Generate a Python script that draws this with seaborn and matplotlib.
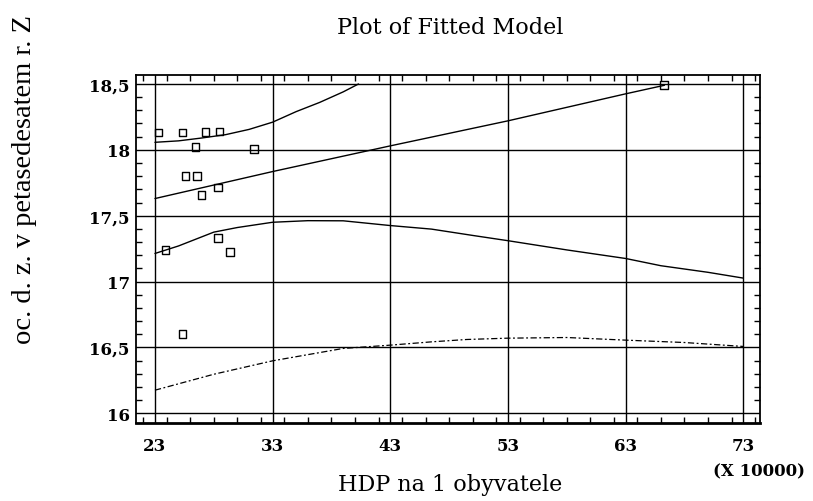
import numpy as np
import pandas as pd
import seaborn as sns
import matplotlib
matplotlib.use("Agg")
import matplotlib.pyplot as plt
from matplotlib.ticker import MultipleLocator, FixedLocator, FuncFormatter

# ---- data ----
obs_x = [23.3, 25.35, 27.3, 28.5, 26.45, 31.4, 25.6, 26.55, 28.35, 26.95, 23.9, 28.35, 29.4, 25.35, 66.25]
obs_y = [18.13, 18.13, 18.135, 18.14, 18.02, 18.005, 17.80, 17.80, 17.715, 17.655, 17.24, 17.33, 17.225, 16.60, 18.49]

fit_x = [23, 33, 43, 53, 63, 66.3]
fit_y = [17.63, 17.835, 18.03, 18.22, 18.425, 18.49]

upper_x = [23, 25, 27, 29, 31, 33, 35, 37, 39, 40.3]
upper_y = [18.057, 18.068, 18.09, 18.115, 18.155, 18.21, 18.29, 18.36, 18.44, 18.5]

lower_x = [23, 25, 28, 30, 33, 36, 39, 43, 46.5, 50, 53, 58, 63, 66, 70, 73]
lower_y = [17.213, 17.27, 17.375, 17.41, 17.45, 17.462, 17.461, 17.425, 17.398, 17.35, 17.31, 17.24, 17.175, 17.12, 17.07, 17.026]

pred_x = [23, 28, 33, 39, 43, 46.5, 49.5, 53, 58, 63, 68, 73]
pred_y = [16.175, 16.296, 16.398, 16.492, 16.517, 16.542, 16.56, 16.57, 16.575, 16.555, 16.537, 16.507]

x_ticks = [23, 33, 43, 53, 63, 73]
y_ticks = [16, 16.5, 17, 17.5, 18, 18.5]

title = "Plot of Fitted Model"
x_label = "HDP na 1 obyvatele"
y_label = "oc. d. z. v petasedesatem r. Z"
x_scale_note = "(X 10000)"

# ---- plot ----
sns.set_theme(style="white")
plt.rcParams["font.family"] = ["DejaVu Serif", "DejaVu Sans"]
plt.rcParams["text.color"] = "black"
plt.rcParams["axes.labelcolor"] = "black"
plt.rcParams["xtick.color"] = "black"
plt.rcParams["ytick.color"] = "black"

fig = plt.figure(figsize=(8.13, 5.02), dpi=100)
ax = fig.add_axes([0.1673, 0.1554, 0.7675, 0.6932])

sns.lineplot(x=fit_x, y=fit_y, ax=ax, color="black", lw=1.0, estimator=None, sort=False)
sns.lineplot(x=upper_x, y=upper_y, ax=ax, color="black", lw=1.0, estimator=None, sort=False)
sns.lineplot(x=lower_x, y=lower_y, ax=ax, color="black", lw=1.0, estimator=None, sort=False)
sns.lineplot(x=pred_x, y=pred_y, ax=ax, color="black", lw=0.9, estimator=None, sort=False)
ax.lines[-1].set_dashes((5, 2, 1.5, 2))
sns.scatterplot(x=obs_x, y=obs_y, ax=ax, marker="s", s=30, facecolor="none",
                edgecolor="black", linewidth=1.0, zorder=5)

ax.set_xlim(21.39, 74.42)
ax.set_ylim(15.926, 18.568)

ax.xaxis.set_major_locator(FixedLocator(x_ticks))
ax.yaxis.set_major_locator(FixedLocator(y_ticks))
ax.xaxis.set_minor_locator(MultipleLocator(2))
ax.yaxis.set_minor_locator(MultipleLocator(0.1))
ax.yaxis.set_major_formatter(FuncFormatter(lambda v, p: ("%g" % v).replace(".", ",")))

ax.grid(True, which="major", color="black", lw=1.0)
ax.set_axisbelow(False)
for s in ax.spines.values():
    s.set_visible(True)
    s.set_color("black")
    s.set_linewidth(1.3)
ax.spines["bottom"].set_linewidth(2.0)

ax.tick_params(which="major", length=0, labelsize=12, colors="black")
ax.tick_params(axis="x", which="major", pad=10)
ax.tick_params(axis="y", which="major", pad=4.5)
ax.tick_params(which="minor", direction="in", length=4, width=1.0, color="black",
               top=True, bottom=True, left=True, right=True)
for lab in ax.get_xticklabels() + ax.get_yticklabels():
    lab.set_fontweight("bold")
    lab.set_family("DejaVu Serif")

ax.set_xlabel("")
ax.set_ylabel("")

fig.text(450 / 813, 1 - 28 / 502, title, ha="center", va="center",
         fontsize=16, family="DejaVu Serif", color="black")
fig.text(450 / 813, 1 - 485 / 502, x_label, ha="center", va="center",
         fontsize=16, family="DejaVu Serif", color="black")
fig.text(25 / 813, 1 - 180 / 502, y_label, ha="center", va="center", rotation=90,
         fontsize=20.5, family="Liberation Serif", color="black")
fig.text(759 / 813, 1 - 472 / 502, x_scale_note, ha="center", va="center",
         fontsize=12, fontweight="bold", family="DejaVu Serif", color="black")

fig.savefig("out.png", dpi=100)
